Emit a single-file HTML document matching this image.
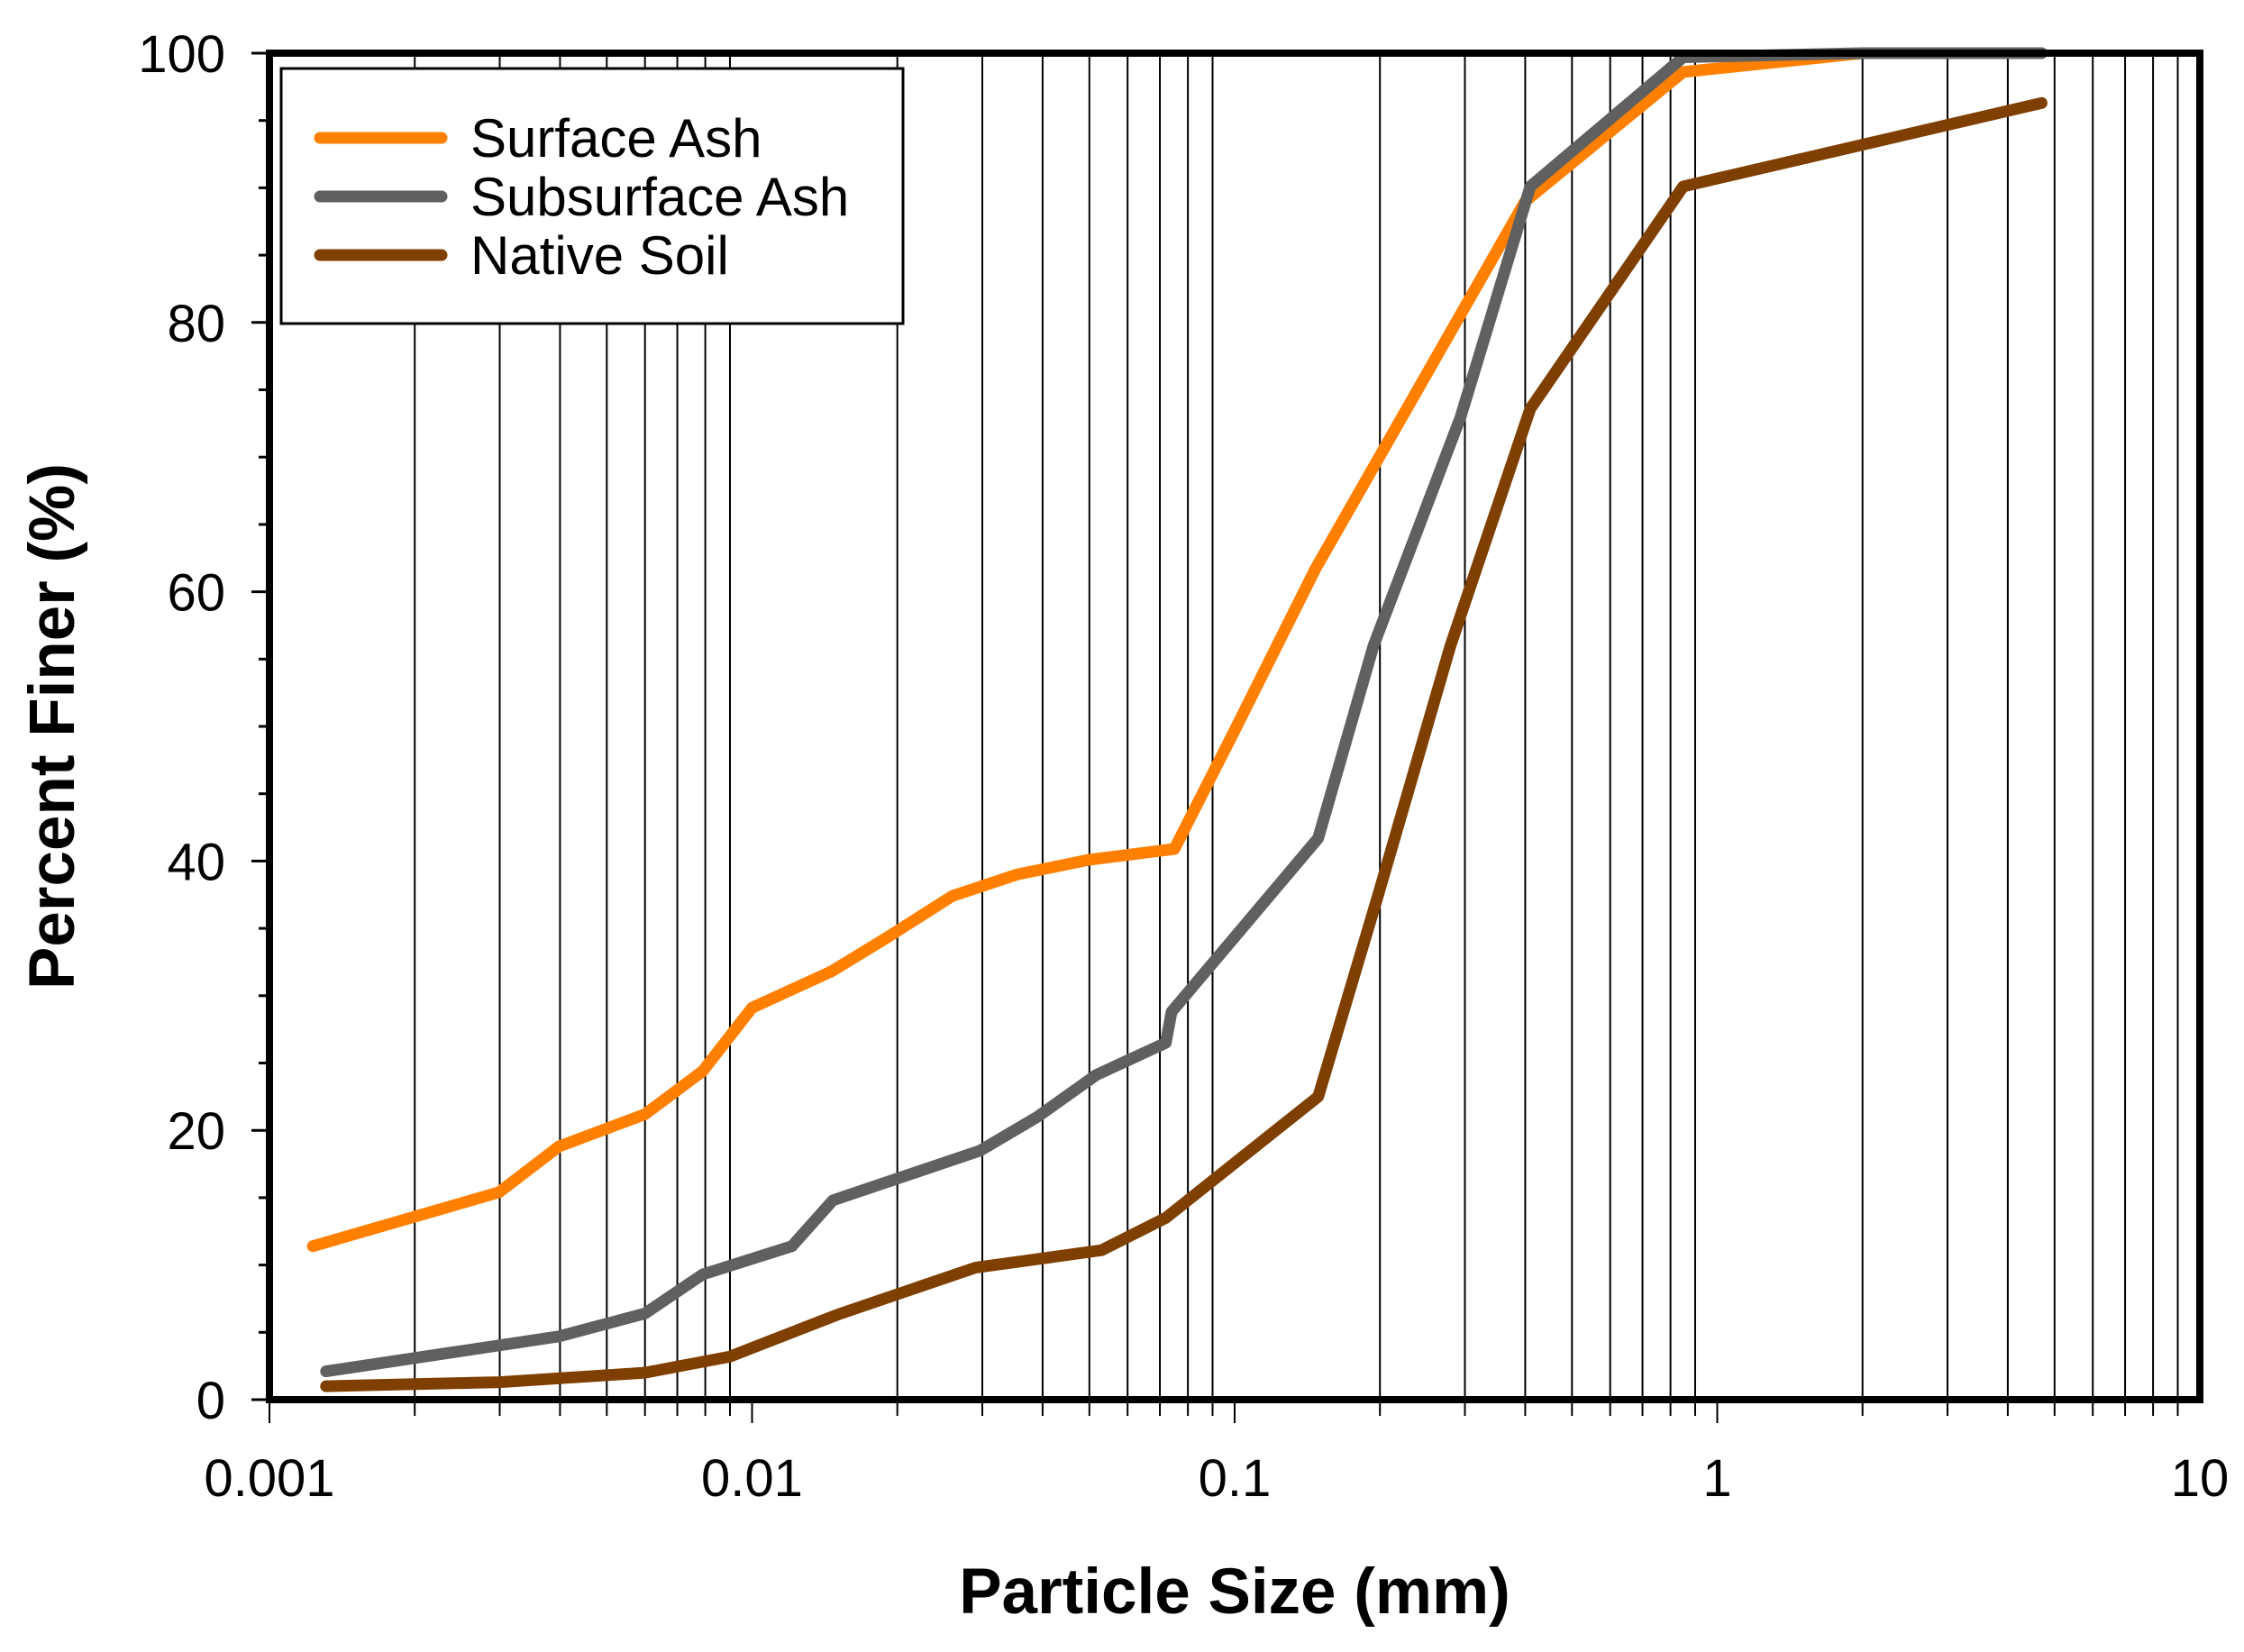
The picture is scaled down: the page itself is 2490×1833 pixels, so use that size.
<!DOCTYPE html>
<html><head><meta charset="utf-8"><style>
html,body{margin:0;padding:0;background:#fff;}
svg{display:block;font-family:"Liberation Sans",Arial,sans-serif;}
</style></head><body>
<svg id="chart" width="2490" height="1833" viewBox="0 0 2490 1833" xmlns="http://www.w3.org/2000/svg">
<g id="grid"></g>
<g id="series"></g>
<g id="axes"></g>
<g id="legend">
  <rect x="312" y="76" width="690" height="283" fill="#fff" stroke="#000" stroke-width="3"/>
  <line x1="355" y1="153" x2="490" y2="153" stroke="#ff8000" stroke-width="13" stroke-linecap="round"/>
  <text x="522" y="174" font-size="60">Surface Ash</text>
  <line x1="355" y1="218" x2="490" y2="218" stroke="#606060" stroke-width="13" stroke-linecap="round"/>
  <text x="522" y="239" font-size="60">Subsurface Ash</text>
  <line x1="355" y1="283" x2="490" y2="283" stroke="#7f3f00" stroke-width="13" stroke-linecap="round"/>
  <text x="522" y="304" font-size="60">Native Soil</text>
</g>
<text x="1370" y="1790" font-size="71" font-weight="bold" text-anchor="middle">Particle Size (mm)</text>
<text transform="translate(82,806) rotate(-90)" font-size="71" font-weight="bold" text-anchor="middle">Percent Finer (%)</text>
</svg>
<script>
const xTickValues = [0.001, 0.01, 0.1, 1, 10];
const xTickLabels = ["0.001", "0.01", "0.1", "1", "10"];
const yTickValues = [0, 20, 40, 60, 80, 100];
const yTickLabels = ["0", "20", "40", "60", "80", "100"];
const surfaceX = [0.00123,0.00299,0.00398,0.006,0.0079,0.01,0.0146,0.019,0.026,0.0354,0.05,0.075,0.1,0.147,0.40,0.85,2,4.7];
const surfaceY = [11.4,15.4,18.8,21.2,24.4,29.1,31.8,34.3,37.4,39,40.1,40.9,49.7,61.7,89,98.6,100,100];
const subsurfaceX = [0.00131,0.00398,0.006,0.0079,0.0121,0.0147,0.0297,0.039,0.0516,0.072,0.074,0.149,0.194,0.294,0.41,0.85,2,4.7];
const subsurfaceY = [2.1,4.7,6.4,9.3,11.4,14.8,18.5,21,24.1,26.5,28.8,41.7,56,73,90.1,99.7,100,100];
const nativeX = [0.00131,0.003,0.006,0.009,0.015,0.029,0.053,0.072,0.149,0.198,0.28,0.41,0.85,4.7];
const nativeY = [1,1.3,2,3.2,6.3,9.8,11.1,13.5,22.5,37.4,56,73.6,90.1,96.3];

const L=299, R=2441, T=59, B=1553;
const xs = v => L + (Math.log10(v) + 3) / 4 * (R - L);
const ys = v => B - v / 100 * (B - T);
const NS = "http://www.w3.org/2000/svg";
function mk(tag, attrs, parent){const e=document.createElementNS(NS,tag);for(const k in attrs)e.setAttribute(k,attrs[k]);parent.appendChild(e);return e;}
const grid=document.getElementById('grid'), axes=document.getElementById('axes'), series=document.getElementById('series');

for(let d=-3; d<1; d++){
  for(let m=1; m<=9; m++){
    const v=m*Math.pow(10,d); const x=xs(v);
    if(m>1){
      const g=mk('line',{x1:x,y1:T,x2:x,y2:B,stroke:'#000','stroke-width':2},grid);
      
      
    }
    const t=mk('line',{x1:x,y1:B,x2:x,y2:B+(m===1?26:18),stroke:'#000','stroke-width':2},axes);
    
    
  }
}
for(let v=0; v<=100; v+=5){
  const y=ys(v);
  const t=mk('line',{x1:L-(v%20===0?20:12),y1:y,x2:L,y2:y,stroke:'#000','stroke-width':3},axes);
  
  
}
xTickValues.forEach((v,i)=>{
  const t=mk('text',{x:xs(v),y:1660,'font-size':58,'text-anchor':'middle'},axes);
  t.textContent=xTickLabels[i];
  
  
});
yTickValues.forEach((v,i)=>{
  const t=mk('text',{x:250,y:ys(v)+21,'font-size':58,'text-anchor':'end'},axes);
  t.textContent=yTickLabels[i];
  
  
});
const frame=mk('rect',{x:L,y:T,width:R-L,height:B-T,fill:'none',stroke:'#000','stroke-width':8},axes);



function drawSeries(X,Y,color,name){
  const pts=X.map((x,i)=>xs(x).toFixed(1)+','+ys(Y[i]).toFixed(1)).join(' ');
  const p=mk('polyline',{points:pts,fill:'none',stroke:color,'stroke-width':13,'stroke-linejoin':'round','stroke-linecap':'round'},series);
  
  
}
drawSeries(nativeX,nativeY,'#7f3f00','native-soil-line');
drawSeries(surfaceX,surfaceY,'#ff8000','surface-ash-line');
drawSeries(subsurfaceX,subsurfaceY,'#606060','subsurface-ash-line');
</script>
</body></html>
